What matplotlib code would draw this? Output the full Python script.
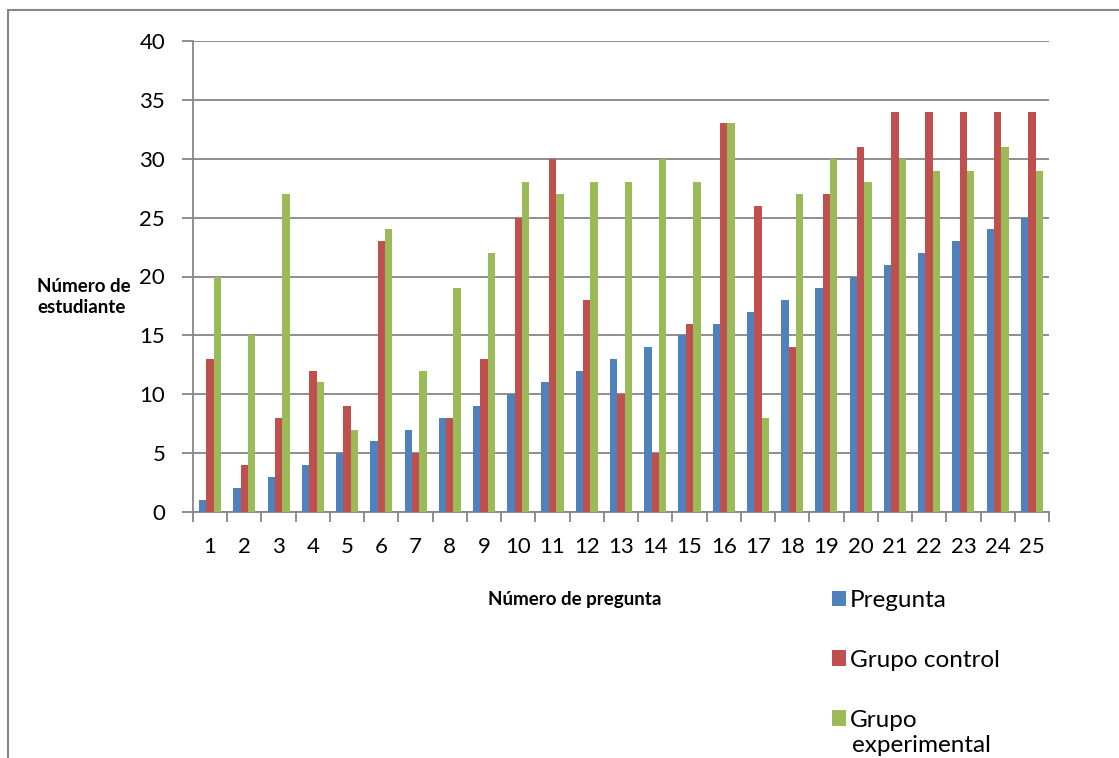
import matplotlib
matplotlib.use('Agg')
import matplotlib.pyplot as plt
from matplotlib.patches import Rectangle
import numpy as np

preguntas = list(range(1, 26))
pregunta = [1, 2, 3, 4, 5, 6, 7, 8, 9, 10, 11, 12, 13, 14, 15, 16, 17, 18, 19, 20, 21, 22, 23, 24, 25]
grupo_control = [13, 4, 8, 12, 9, 23, 5, 8, 13, 25, 30, 18, 10, 5, 16, 33, 26, 14, 27, 31, 34, 34, 34, 34, 34]
grupo_experimental = [20, 15, 27, 11, 7, 24, 12, 19, 22, 28, 27, 28, 28, 30, 28, 33, 8, 27, 30, 28, 30, 29, 29, 31, 29]

plt.rcParams['font.family'] = ['Lato', 'DejaVu Sans']
gris = '#868686'

fig = plt.figure(figsize=(11.19, 7.58), dpi=100)
ax = fig.add_axes([193 / 1119, 1 - 512 / 758, 856 / 1119, 471 / 758])

x = np.array(preguntas)
w = 0.215
ax.bar(x - w, pregunta, w, color='#4F81BD', label='Pregunta', zorder=3)
ax.bar(x, grupo_control, w, color='#C0504D', label='Grupo control', zorder=3)
ax.bar(x + w, grupo_experimental, w, color='#9BBB59', label='Grupo', zorder=3)

ax.set_xlim(0.5, 25.5)
ax.set_ylim(0, 40)
ax.set_yticks(range(0, 41, 5))
ax.yaxis.grid(True, color=gris, linewidth=1.3, zorder=0)

ax.set_xticks(np.arange(0.5, 26, 1))
ax.set_xticklabels([])
ax.set_xticks(x, minor=True)
ax.set_xticklabels([str(p) for p in preguntas], minor=True, fontsize=16)
ax.tick_params(axis='x', which='major', length=7, width=1.3, color=gris, direction='out')
ax.tick_params(axis='x', which='minor', length=0, pad=18)
ax.tick_params(axis='y', length=8, width=1.3, color=gris, pad=12, labelsize=16)

for s in ['top', 'right']:
    ax.spines[s].set_visible(False)
for s in ['left', 'bottom']:
    ax.spines[s].set_color(gris)
    ax.spines[s].set_linewidth(1.3)

fig.text(575 / 1119, 1 - 600 / 758, 'Número de pregunta', ha='center', va='center',
         fontsize=13.5, fontweight='bold')
fig.text(37 / 1119, 1 - 297 / 758, 'Número de\nestudiante', ha='left', va='center',
         fontsize=13.5, fontweight='bold', linespacing=1.3)

leg = fig.legend(loc='upper left', bbox_to_anchor=(810 / 1119, 1 - 568 / 758), frameon=False,
                 fontsize=17.5, handlelength=0.6, handleheight=0.6, handletextpad=0.15,
                 labelspacing=1.6)
fig.text(852 / 1119, 1 - 745 / 758, 'experimental', ha='left', va='center', fontsize=17.5)

fig.add_artist(Rectangle((8 / 1119, -0.2), 1.2, 1.2 - 10 / 758, transform=fig.transFigure,
                         fill=False, edgecolor=gris, linewidth=1.5))

fig.savefig('out.png', dpi=100)
